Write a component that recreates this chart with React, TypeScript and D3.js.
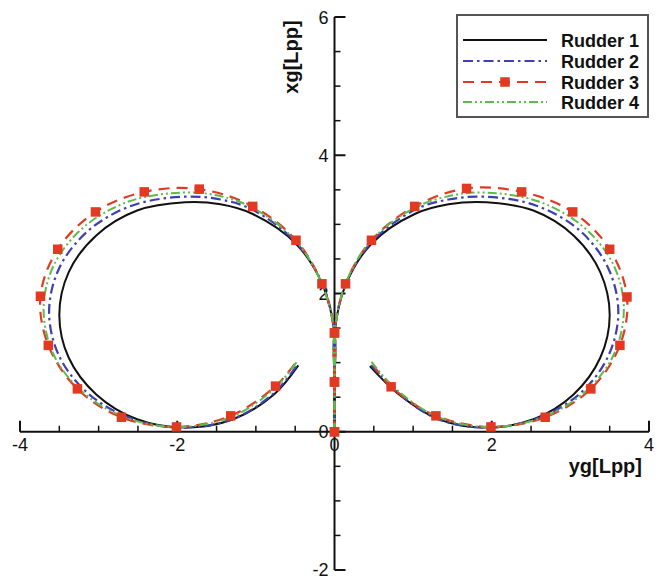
import React from "react";
import * as d3 from "d3";

// ---- data: trajectories [yg, xg] in Lpp ----
const seriesNames = ["Rudder 1", "Rudder 2", "Rudder 3", "Rudder 4"];

const rudder1Port: [number, number][] = [
  [0, 0], [0, 0.72], [0, 1.43], [-0.15, 2.12], [-0.49, 2.72], [-1.04, 3.15], [-1.45, 3.29],
  [-1.9, 3.32], [-2.51, 3.2], [-3.03, 2.84], [-3.38, 2.31], [-3.5, 1.69], [-3.38, 1.07],
  [-3.03, 0.54], [-2.51, 0.18], [-1.9, 0.06], [-1.29, 0.18], [-0.77, 0.54], [-0.46, 0.96],
];
const rudder1Stbd: [number, number][] = [
  [0, 0], [0, 0.72], [0, 1.43], [0.14, 2.12], [0.47, 2.72], [1.02, 3.15], [1.45, 3.29],
  [1.93, 3.32], [2.53, 3.2], [3.04, 2.84], [3.38, 2.31], [3.5, 1.69], [3.38, 1.07],
  [3.04, 0.54], [2.53, 0.18], [1.93, 0.06], [1.33, 0.18], [0.82, 0.54], [0.45, 0.95],
];
const rudder2Port: [number, number][] = [
  [0, 0], [0, 0.72], [0, 1.43], [-0.15, 2.13], [-0.49, 2.74], [-1.04, 3.21], [-1.45, 3.36],
  [-1.93, 3.4], [-2.58, 3.27], [-3.13, 2.91], [-3.5, 2.37], [-3.63, 1.73], [-3.5, 1.09],
  [-3.13, 0.55], [-2.58, 0.19], [-1.93, 0.06], [-1.28, 0.19], [-0.77, 0.56], [-0.47, 0.97],
];
const rudder2Stbd: [number, number][] = [
  [0, 0], [0, 0.72], [0, 1.43], [0.14, 2.13], [0.47, 2.74], [1.02, 3.21], [1.45, 3.36],
  [1.93, 3.4], [2.57, 3.27], [3.12, 2.91], [3.48, 2.37], [3.61, 1.73], [3.48, 1.09],
  [3.12, 0.55], [2.57, 0.19], [1.93, 0.06], [1.3, 0.19], [0.8, 0.57], [0.46, 0.97],
];
const rudder3Port: [number, number][] = [
  [0, 0], [0, 0.72], [0, 1.43], [-0.16, 2.14], [-0.49, 2.77], [-1.04, 3.26], [-1.72, 3.51],
  [-2.42, 3.47], [-3.04, 3.18], [-3.52, 2.64], [-3.74, 1.96], [-3.64, 1.25], [-3.27, 0.62],
  [-2.71, 0.21], [-2.01, 0.07], [-1.32, 0.23], [-0.75, 0.66], [-0.5, 0.99],
];
const rudder3Stbd: [number, number][] = [
  [0, 0], [0, 0.72], [0, 1.43], [0.14, 2.14], [0.47, 2.77], [1.02, 3.26], [1.68, 3.52],
  [2.38, 3.47], [3.03, 3.18], [3.5, 2.64], [3.72, 1.95], [3.63, 1.25], [3.26, 0.62],
  [2.68, 0.21], [1.99, 0.07], [1.29, 0.23], [0.72, 0.65], [0.47, 1.0],
];
const rudder4Port: [number, number][] = [
  [0, 0], [0, 0.72], [0, 1.43], [-0.16, 2.14], [-0.5, 2.77], [-1.04, 3.24], [-1.5, 3.42],
  [-1.95, 3.46], [-2.62, 3.33], [-3.19, 2.96], [-3.57, 2.41], [-3.7, 1.78], [-3.57, 1.11],
  [-3.19, 0.56], [-2.62, 0.19], [-1.95, 0.07], [-1.3, 0.22], [-0.77, 0.62], [-0.48, 1.01],
];
const rudder4Stbd: [number, number][] = [
  [0, 0], [0, 0.72], [0, 1.43], [0.14, 2.14], [0.47, 2.77], [1.02, 3.24], [1.5, 3.42],
  [1.93, 3.46], [2.6, 3.33], [3.17, 2.96], [3.55, 2.41], [3.68, 1.78], [3.55, 1.11],
  [3.17, 0.56], [2.6, 0.19], [1.93, 0.07], [1.3, 0.22], [0.78, 0.62], [0.47, 1.01],
];

const xMajorTicks = [-4, -2, 0, 2, 4];
const yMajorTicks = [-2, 0, 2, 4, 6];

const series = [
  { name: seriesNames[0], loops: [rudder1Port, rudder1Stbd], color: "#111111", dash: "none", width: 2, markers: false },
  { name: seriesNames[1], loops: [rudder2Port, rudder2Stbd], color: "#3f3fb4", dash: "10 4 2.5 4", width: 2.2, markers: false },
  { name: seriesNames[2], loops: [rudder3Port, rudder3Stbd], color: "#e23a22", dash: "11 7", width: 2.2, markers: true },
  { name: seriesNames[3], loops: [rudder4Port, rudder4Stbd], color: "#5dbb4e", dash: "9 3 2 3 2 3", width: 2, markers: false },
];

export default function App() {
  const W = 660, H = 579;
  const x = d3.scaleLinear().domain([-4, 4]).range([20, 649]);
  const y = d3.scaleLinear().domain([-2, 6]).range([570, 17]);
  const line = d3
    .line<[number, number]>()
    .x((d) => x(d[0]))
    .y((d) => y(d[1]))
    .curve(d3.curveCatmullRom.alpha(0.5));

  const xMinor = d3.range(-4, 4.001, 0.5).filter((v) => !xMajorTicks.includes(v));
  const yMinor = d3.range(-2, 6.001, 0.5).filter((v) => !yMajorTicks.includes(v));
  const x0 = x(0), y0 = y(0);
  const font = "'Liberation Sans', Arial, Helvetica, sans-serif";
  const ms = 9.5;

  const leg = { x0: 457, y0: 15, x1: 648, y1: 117 };
  const rowY = [40, 61, 82, 102];

  return (
    <svg width={W} height={H} style={{ position: "absolute", left: 0, top: 0, background: "#fff" }}>
      <rect x={0} y={0} width={W} height={H} fill="#fff" />
      {/* axes */}
      <g stroke="#111" strokeWidth={2} fill="none">
        <line x1={x(-4)} x2={x(4)} y1={y0} y2={y0} />
        <line x1={x0} x2={x0} y1={y(-2)} y2={y(6)} />
        {xMajorTicks.map((v) => (
          <line key={"xM" + v} x1={x(v)} x2={x(v)} y1={y0} y2={y0 - 11} />
        ))}
        {xMinor.map((v) => (
          <line key={"xm" + v} x1={x(v)} x2={x(v)} y1={y0} y2={y0 - 6} strokeWidth={1.5} />
        ))}
        {yMajorTicks.map((v) => (
          <line key={"yM" + v} x1={x0} x2={x0 + 11} y1={y(v)} y2={y(v)} />
        ))}
        {yMinor.map((v) => (
          <line key={"ym" + v} x1={x0} x2={x0 + 6} y1={y(v)} y2={y(v)} strokeWidth={1.5} />
        ))}
      </g>
      <g fontFamily={font} fontSize={18} fill="#111">
        {xMajorTicks.map((v) => (
          <text key={"xl" + v} x={x(v)} y={y0 + 19} textAnchor="middle">
            {v}
          </text>
        ))}
        {yMajorTicks.map((v) => (
          <text key={"yl" + v} x={x0 - 6} y={Math.min(y(v) + 6.5, 576)} textAnchor="end">
            {v}
          </text>
        ))}
      </g>
      <text x={642} y={473} textAnchor="end" fontFamily={font} fontSize={20} fontWeight="bold" fill="#111">
        yg[Lpp]
      </text>
      <text
        transform={`translate(298,57) rotate(-90)`}
        textAnchor="middle"
        fontFamily={font}
        fontSize={20}
        fontWeight="bold"
        fill="#111"
      >
        xg[Lpp]
      </text>

      {/* curves */}
      {series.map((s) =>
        s.loops.map((pts, i) => (
          <path
            key={s.name + i}
            d={line(pts) || ""}
            fill="none"
            stroke={s.color}
            strokeWidth={s.width}
            strokeDasharray={s.dash}
          />
        ))
      )}
      {series
        .filter((s) => s.markers)
        .map((s) =>
          s.loops.map((pts, i) =>
            pts.slice(0, -1).map((d, j) => (
              <rect
                key={s.name + i + "m" + j}
                x={x(d[0]) - ms / 2}
                y={y(d[1]) - ms / 2}
                width={ms}
                height={ms}
                fill={s.color}
              />
            ))
          )
        )}

      {/* legend */}
      <rect
        x={leg.x0}
        y={leg.y0}
        width={leg.x1 - leg.x0}
        height={leg.y1 - leg.y0}
        fill="#fff"
        stroke="#555"
        strokeWidth={2}
      />
      {series.map((s, i) => (
        <g key={"leg" + i}>
          <line
            x1={463}
            x2={547}
            y1={rowY[i]}
            y2={rowY[i]}
            stroke={s.color}
            strokeWidth={s.width}
            strokeDasharray={s.dash}
          />
          {s.markers && (
            <rect x={505 - ms / 2} y={rowY[i] - ms / 2} width={ms} height={ms} fill={s.color} />
          )}
          <text
            x={561}
            y={rowY[i] + 6.5}
            fontFamily={font}
            fontSize={18}
            fontWeight="bold"
            fill="#111"
          >
            {s.name}
          </text>
        </g>
      ))}
    </svg>
  );
}
